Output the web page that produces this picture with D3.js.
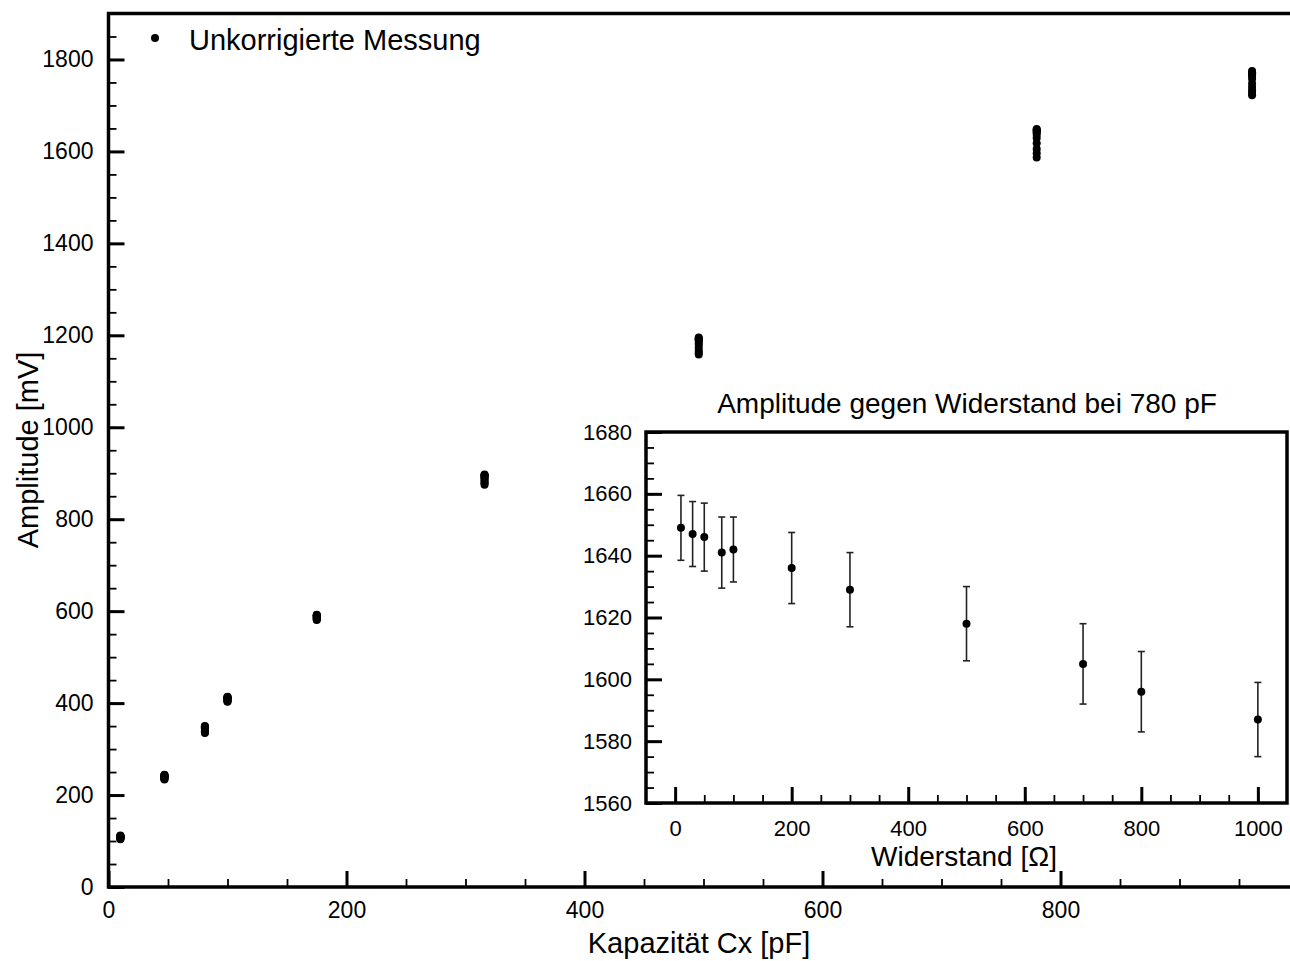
<!DOCTYPE html>
<html>
<head>
<meta charset="utf-8">
<script src="https://cdn.jsdelivr.net/npm/d3@7"></script>
<style>
  html, body { margin: 0; padding: 0; background: #fff; }
  svg { display: block; font-family: "Liberation Sans", Arial, sans-serif; }
</style>
</head>
<body>
<svg id="chart" width="1290" height="961"></svg>
<script>
// Main plot: amplitude clusters per capacity (11 resistances each)
const capacities = [10, 47, 81, 100, 175, 316, 496, 780, 961];
const amp10  = [112, 111, 111, 110, 110, 109, 108, 107, 106, 105, 104];
const amp47  = [244, 243, 243, 242, 241, 240, 239, 238, 236, 235, 234];
const amp81  = [350, 349, 348, 347, 346, 344, 342, 340, 338, 336, 335];
const amp100 = [414, 413, 413, 412, 411, 410, 408, 407, 405, 404, 403];
const amp175 = [592, 591, 591, 590, 589, 588, 587, 585, 584, 582, 581];
const amp316 = [897, 896, 895, 894, 893, 890, 888, 884, 881, 878, 875];
const amp496 = [1195, 1193, 1192, 1190, 1189, 1184, 1180, 1173, 1167, 1162, 1158];
const amp780 = [1649, 1647, 1646, 1641, 1642, 1636, 1629, 1618, 1605, 1596, 1587];
const amp961 = [1775, 1772, 1770, 1766, 1765, 1758, 1748, 1740, 1733, 1727, 1722];
const clusters = [amp10, amp47, amp81, amp100, amp175, amp316, amp496, amp780, amp961];

// Inset: amplitude vs resistance at 780 pF
const resistances = [10, 30, 50, 80, 100, 200, 300, 500, 700, 800, 1000];
const insetAmp = amp780;
const insetErr = [10.5, 10.5, 11, 11.5, 10.5, 11.5, 12, 12, 13, 13, 12];

const mainXTicks = [0, 200, 400, 600, 800];
const mainYTicks = [0, 200, 400, 600, 800, 1000, 1200, 1400, 1600, 1800];
const insetXTicks = [0, 200, 400, 600, 800, 1000];
const insetYTicks = [1560, 1580, 1600, 1620, 1640, 1660, 1680];

const svg = d3.select('#chart');
const fmt = d3.format('d');
const points = [];
capacities.forEach((c, i) => clusters[i].forEach(a => points.push({ c, a })));

// ---- main plot
const x = d3.scaleLinear().domain([0, 1000]).range([108.5, 1298.5]);
const y = d3.scaleLinear().domain([0, 1900]).range([887, 13.5]);

function styleAxis(g, w) {
    g.select('.domain').remove();
    g.selectAll('.tick line').attr('stroke', '#000').attr('stroke-width', w);
}

svg.append('g').attr('transform', 'translate(0,887)')
    .call(d3.axisBottom(x).tickValues(d3.range(0, 1000, 50)).tickSize(-8).tickFormat(''))
    .call(g => styleAxis(g, 1.8));
svg.append('g').attr('transform', 'translate(0,887)')
    .call(d3.axisBottom(x).tickValues(mainXTicks).tickSize(-16).tickPadding(15).tickFormat(fmt))
    .call(g => styleAxis(g, 3))
    .call(g => g.selectAll('text').attr('font-size', 23).attr('fill', '#000'));

svg.append('g').attr('transform', 'translate(108.5,0)')
    .call(d3.axisLeft(y).tickValues(d3.range(0, 1900, 50)).tickSize(-8).tickFormat(''))
    .call(g => styleAxis(g, 1.8));
svg.append('g').attr('transform', 'translate(108.5,0)')
    .call(d3.axisLeft(y).tickValues(mainYTicks).tickSize(-16).tickPadding(15).tickFormat(fmt))
    .call(g => styleAxis(g, 3))
    .call(g => g.selectAll('text').attr('font-size', 23).attr('fill', '#000'));

svg.append('rect')
    .attr('x', x(0)).attr('y', y(1900))
    .attr('width', x(1000) - x(0)).attr('height', y(0) - y(1900))
    .attr('fill', 'none').attr('stroke', '#000').attr('stroke-width', 3.5);

svg.append('g').selectAll('circle').data(points).join('circle')
    .attr('cx', d => x(d.c)).attr('cy', d => y(d.a)).attr('r', 4).attr('fill', '#000');

// legend
svg.append('circle').attr('cx', 155).attr('cy', 38).attr('r', 4).attr('fill', '#000');
svg.append('text').attr('x', 189).attr('y', 50).attr('font-size', 29).text('Unkorrigierte Messung');

// axis titles
svg.append('text').attr('x', 699).attr('y', 953).attr('text-anchor', 'middle')
    .attr('font-size', 29).text('Kapazität Cx [pF]');
svg.append('text').attr('transform', 'translate(38,450) rotate(-90)').attr('text-anchor', 'middle')
    .attr('font-size', 29).text('Amplitude [mV]');

// ---- inset
const ix = d3.scaleLinear().domain([-50, 1050]).range([646, 1287]);
const iy = d3.scaleLinear().domain([1560, 1680]).range([803, 432]);

svg.append('rect')
    .attr('x', ix(-50)).attr('y', iy(1680))
    .attr('width', ix(1050) - ix(-50)).attr('height', iy(1560) - iy(1680))
    .attr('fill', '#fff');

svg.append('g').attr('transform', 'translate(0,803)')
    .call(d3.axisBottom(ix).tickValues(d3.range(0, 1050, 50)).tickSize(-8).tickFormat(''))
    .call(g => styleAxis(g, 1.8));
svg.append('g').attr('transform', 'translate(0,803)')
    .call(d3.axisBottom(ix).tickValues(insetXTicks).tickSize(-16).tickPadding(17).tickFormat(fmt))
    .call(g => styleAxis(g, 3))
    .call(g => g.selectAll('text').attr('font-size', 22).attr('fill', '#000'));

svg.append('g').attr('transform', 'translate(646,0)')
    .call(d3.axisLeft(iy).tickValues(d3.range(1565, 1680, 5)).tickSize(-8).tickFormat(''))
    .call(g => styleAxis(g, 1.8));
svg.append('g').attr('transform', 'translate(646,0)')
    .call(d3.axisLeft(iy).tickValues(insetYTicks).tickSize(-16).tickPadding(14).tickFormat(fmt))
    .call(g => styleAxis(g, 3))
    .call(g => g.selectAll('text').attr('font-size', 22).attr('fill', '#000'));

svg.append('rect')
    .attr('x', ix(-50)).attr('y', iy(1680))
    .attr('width', ix(1050) - ix(-50)).attr('height', iy(1560) - iy(1680))
    .attr('fill', 'none').attr('stroke', '#000').attr('stroke-width', 3.5);

const inset = resistances.map((r, i) => ({ r, a: insetAmp[i], e: insetErr[i] }));
const eb = svg.append('g').attr('stroke', '#222').attr('stroke-width', 1.6);
eb.selectAll('.bar').data(inset).join('line')
    .attr('x1', d => ix(d.r)).attr('x2', d => ix(d.r))
    .attr('y1', d => iy(d.a - d.e)).attr('y2', d => iy(d.a + d.e));
eb.selectAll('.capt').data(inset).join('line')
    .attr('x1', d => ix(d.r) - 3.5).attr('x2', d => ix(d.r) + 3.5)
    .attr('y1', d => iy(d.a + d.e)).attr('y2', d => iy(d.a + d.e));
eb.selectAll('.capb').data(inset).join('line')
    .attr('x1', d => ix(d.r) - 3.5).attr('x2', d => ix(d.r) + 3.5)
    .attr('y1', d => iy(d.a - d.e)).attr('y2', d => iy(d.a - d.e));

svg.append('g').selectAll('circle').data(inset).join('circle')
    .attr('cx', d => ix(d.r)).attr('cy', d => iy(d.a)).attr('r', 4).attr('fill', '#000');

svg.append('text').attr('x', 967).attr('y', 413).attr('text-anchor', 'middle')
    .attr('font-size', 28).text('Amplitude gegen Widerstand bei 780 pF');
svg.append('text').attr('x', 964).attr('y', 866).attr('text-anchor', 'middle')
    .attr('font-size', 28).text('Widerstand [Ω]');
</script>
</body>
</html>
